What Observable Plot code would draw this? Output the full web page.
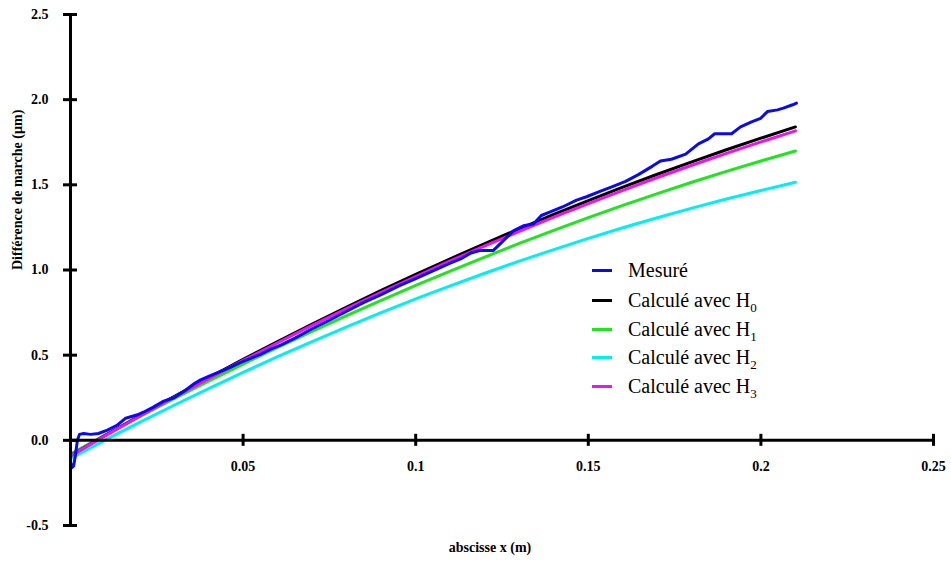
<!DOCTYPE html>
<html>
<head>
<meta charset="utf-8">
<script src="https://cdn.jsdelivr.net/npm/d3@7"></script>
<script src="https://cdn.jsdelivr.net/npm/@observablehq/plot@0.6"></script>
<style>
  html, body { margin: 0; padding: 0; background: #fff; }
  #wrap { position: relative; width: 951px; height: 566px; font-family: "Liberation Serif", "DejaVu Serif", "Times New Roman", Times, serif; }
  #wrap svg, #wrap svg text { font-family: "Liberation Serif", "DejaVu Serif", "Times New Roman", Times, serif !important; }
  #legend { position: absolute; left: 592px; top: 255px; }
  .row { display: flex; align-items: center; height: 28.7px; font-size: 20px; color: #000; }
  .row.first { height: 31px; }
  .sw { width: 20px; height: 3px; margin-right: 16px; }
  sub { font-size: 13px; vertical-align: -5px; line-height: 0; }
</style>
</head>
<body>
<div id="wrap"><div id="legend"></div></div>
<script>
// ---- data ----
const xGrid = [0, 0.01, 0.02, 0.03, 0.04, 0.05, 0.06, 0.07, 0.08, 0.09, 0.10, 0.11, 0.12, 0.13, 0.14, 0.15, 0.16, 0.17, 0.18, 0.19, 0.20, 0.21];
const calcH0 = [-0.09, 0.028, 0.144, 0.257, 0.367, 0.475, 0.580, 0.683, 0.782, 0.880, 0.974, 1.066, 1.155, 1.242, 1.326, 1.407, 1.486, 1.562, 1.635, 1.706, 1.774, 1.840];
const calcH1 = [-0.08, 0.031, 0.139, 0.244, 0.347, 0.447, 0.545, 0.640, 0.732, 0.822, 0.910, 0.994, 1.076, 1.156, 1.233, 1.308, 1.379, 1.448, 1.515, 1.579, 1.640, 1.699];
const calcH2 = [-0.106, 0.001, 0.105, 0.206, 0.304, 0.399, 0.491, 0.580, 0.666, 0.750, 0.830, 0.907, 0.981, 1.052, 1.120, 1.186, 1.248, 1.307, 1.363, 1.417, 1.467, 1.515];
const calcH3 = [-0.09, 0.026, 0.141, 0.253, 0.362, 0.469, 0.573, 0.675, 0.773, 0.869, 0.961, 1.053, 1.141, 1.227, 1.310, 1.390, 1.468, 1.543, 1.615, 1.685, 1.752, 1.817];
const mesure = [
  [0, -0.13], [0.0004, -0.16], [0.0009, -0.15], [0.0014, -0.09], [0.002, 0.0], [0.0026, 0.035],
  [0.0038, 0.04], [0.0058, 0.035], [0.0081, 0.04], [0.0107, 0.06], [0.0136, 0.09], [0.016, 0.13],
  [0.0194, 0.15], [0.0211, 0.165], [0.024, 0.195], [0.027, 0.23], [0.030, 0.25], [0.033, 0.29],
  [0.036, 0.335], [0.0377, 0.355], [0.040, 0.375], [0.0435, 0.405], [0.046, 0.425], [0.049, 0.455],
  [0.052, 0.48], [0.055, 0.505], [0.058, 0.535], [0.061, 0.56], [0.065, 0.60], [0.07, 0.655],
  [0.075, 0.705], [0.08, 0.758], [0.085, 0.81], [0.09, 0.855], [0.095, 0.905], [0.10, 0.95],
  [0.105, 0.995], [0.11, 1.04], [0.113, 1.065], [0.116, 1.10], [0.1188, 1.115], [0.1225, 1.115],
  [0.1246, 1.156], [0.1283, 1.23], [0.1312, 1.26], [0.1341, 1.27], [0.1364, 1.32], [0.1388, 1.34],
  [0.1425, 1.37], [0.1466, 1.41], [0.1495, 1.43], [0.1532, 1.46], [0.157, 1.49], [0.1608, 1.52],
  [0.1645, 1.56], [0.1686, 1.61], [0.1709, 1.64], [0.1741, 1.65], [0.1782, 1.68], [0.1819, 1.74],
  [0.1848, 1.77], [0.1866, 1.80], [0.1915, 1.80], [0.1941, 1.84], [0.1973, 1.87], [0.1999, 1.89],
  [0.2019, 1.93], [0.2048, 1.94], [0.2065, 1.95], [0.2092, 1.97], [0.2103, 1.98]
];
const xTicks = [0.05, 0.1, 0.15, 0.2, 0.25];
const xTickLabels = ["0.05", "0.1", "0.15", "0.2", "0.25"];
const yTicks = [-0.5, 0, 0.5, 1, 1.5, 2, 2.5];
const yTickLabels = ["-0.5", "0.0", "0.5", "1.0", "1.5", "2.0", "2.5"];
const seriesNames = ["Mesuré", "Calculé avec H0", "Calculé avec H1", "Calculé avec H2", "Calculé avec H3"];
const seriesColors = ["#0a0af0", "#000000", "#1ee61e", "#00f0f0", "#f010f0"];
const xTitle = "abscisse x (m)";
const yTitle = "Différence de marche (µm)";

// ---- build tables ----
const calc = (arr) => xGrid.map((x, i) => ({x, y: arr[i]}));
const mesData = mesure.map(([x, y]) => ({x, y}));

const serif = "'Liberation Serif', 'DejaVu Serif', 'Times New Roman', Times, serif";
const bold = {fontWeight: "bold", fontSize: 14, fill: "#000", fontFamily: serif};

const chart = Plot.plot({
  width: 951,
  height: 566,
  marginLeft: 70,
  marginRight: 18,
  marginTop: 14,
  marginBottom: 41,
  style: {fontFamily: serif, background: "#fff"},
  x: {domain: [0, 0.25], axis: null},
  y: {domain: [-0.5, 2.5], axis: null},
  marks: [
    // curves
    Plot.line(calc(calcH2), {x: "x", y: "y", stroke: seriesColors[3], strokeWidth: 3}),
    Plot.line(calc(calcH1), {x: "x", y: "y", stroke: seriesColors[2], strokeWidth: 3}),
    Plot.line(calc(calcH0), {x: "x", y: "y", stroke: seriesColors[1], strokeWidth: 3}),
    Plot.line(calc(calcH3), {x: "x", y: "y", stroke: seriesColors[4], strokeWidth: 3}),
    Plot.line(mesData, {x: "x", y: "y", stroke: seriesColors[0], strokeWidth: 3, curve: "linear"}),
    // axes lines
    Plot.ruleY([0], {x1: 0, x2: 0.25, stroke: "#000", strokeWidth: 3}),
    Plot.ruleX([0], {y1: -0.5, y2: 2.5, stroke: "#000", strokeWidth: 3}),
    // ticks
    Plot.ruleY(yTicks, {x1: 0, x2: 0, insetLeft: -7, insetRight: -7, stroke: "#000", strokeWidth: 3}),
    Plot.ruleX(xTicks, {y1: 0, y2: 0, insetTop: -6, insetBottom: -6, stroke: "#000", strokeWidth: 3}),
    // tick labels
    Plot.text(yTicks, {x: 0, y: d => d, text: (d, i) => yTickLabels[i], textAnchor: "end", dx: -22, ...bold}),
    Plot.text(xTicks, {x: d => d, y: 0, text: (d, i) => xTickLabels[i], dy: 26, ...bold}),
    // axis titles
    Plot.text([yTitle], {frameAnchor: "left", dx: -53, rotate: -90, ...bold}),
    Plot.text([xTitle], {frameAnchor: "bottom", dy: 26, dx: -12, ...bold})
  ]
});
document.getElementById("wrap").prepend(chart);
chart.style.display = "block";

// legend (HTML)
const legend = document.getElementById("legend");
seriesNames.forEach((name, i) => {
  const row = document.createElement("div");
  row.className = "row" + (i === 0 ? " first" : "");
  const sw = document.createElement("div");
  sw.className = "sw";
  sw.style.background = seriesColors[i];
  row.appendChild(sw);
  const lab = document.createElement("span");
  const m = name.match(/^(.*H)(\d)$/);
  if (m) {
    lab.appendChild(document.createTextNode(m[1]));
    const sub = document.createElement("sub");
    sub.textContent = m[2];
    lab.appendChild(sub);
  } else {
    lab.textContent = name;
  }
  row.appendChild(lab);
  legend.appendChild(row);
});
</script>
</body>
</html>
